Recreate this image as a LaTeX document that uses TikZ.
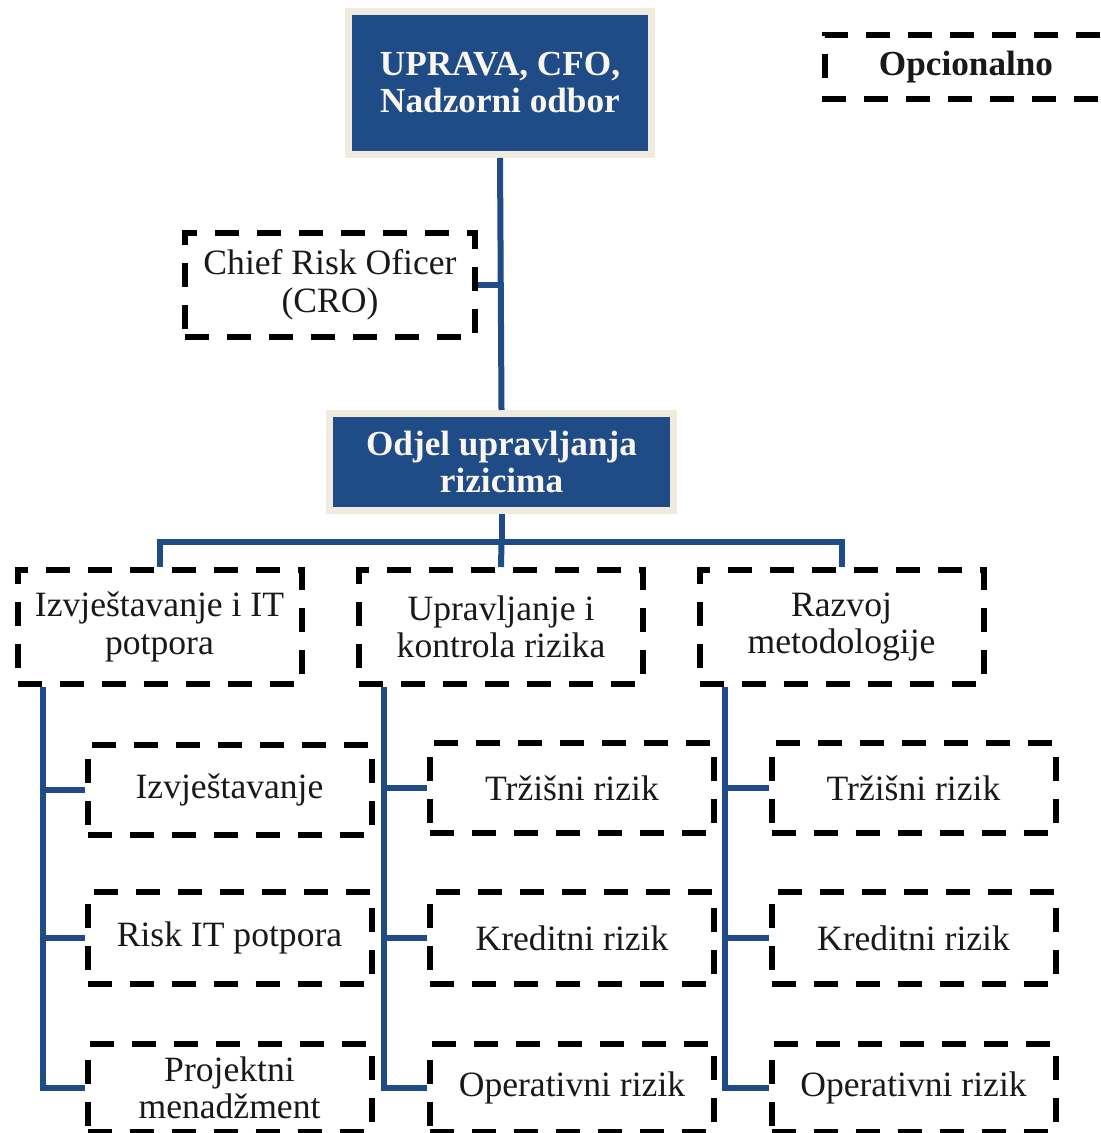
\documentclass[tikz,border=0pt]{standalone}
\usepackage{fontspec}
\setmainfont{Liberation Serif}
\definecolor{navy}{RGB}{31,75,135}
\definecolor{halo}{RGB}{240,235,222}
\definecolor{ink}{RGB}{25,25,25}
\definecolor{cream}{RGB}{250,246,236}
\begin{document}
\begin{tikzpicture}[x=0.5pt,y=-0.5pt,
  mainbox/.style={fill=navy, text=cream, font=\bfseries\fontsize{17.6}{18.5}\selectfont,
    align=center, inner sep=0pt, outer sep=3.5pt, preaction={draw=halo, line width=7pt}},
  optbox/.style={draw=black, line width=3pt, dash pattern=on 12pt off 9pt, text=ink,
    font=\fontsize{17.8}{18.8}\selectfont, align=center, inner sep=0pt},
  lvtwo/.style={optbox, minimum width=142pt, minimum height=57pt},
  lvthree/.style={optbox, minimum width=142pt, minimum height=45pt},
  link/.style={draw=navy, line width=3pt}]
\path[use as bounding box, fill=white] (0,0) rectangle (1100,1133);

% top boxes
\node[mainbox, minimum width=148pt, minimum height=68pt] (top) at (500,83) {UPRAVA, CFO,\\Nadzorni odbor};
\node[mainbox, minimum width=168.5pt, minimum height=45pt] (odjel) at (501.5,462) {Odjel upravljanja\\rizicima};
\node[optbox, minimum width=145pt, minimum height=52pt] (cro) at (330,285) {Chief Risk Oficer\\(CRO)};

% legend
\node[text=ink, font=\bfseries\fontsize{17.6}{18.5}\selectfont, inner sep=0pt] (opt) at (966,67) {Opcionalno};
\draw[black, line width=3.2pt, dash pattern=on 12pt off 9pt] (1100,35) -- (825,35) -- (825,99) -- (1100,99);

% level 2
\node[lvtwo] (l2a) at (159.5,627) {Izvještavanje i IT\\potpora};
\node[lvtwo] (l2b) at (501,627) {Upravljanje i\\kontrola rizika};
\node[lvtwo] (l2c) at (841.5,627) {Razvoj\\metodologije};

% level 3
\node[lvthree] (a1) at (229.5,790) {Izvještavanje};
\node[lvthree, minimum height=46pt] (a2) at (229.5,938) {Risk IT potpora};
\node[lvthree, minimum height=44pt] (a3) at (229.5,1088) {Projektni\\menadžment};
\node[lvthree] (b1) at (572,788) {Tržišni rizik};
\node[lvthree, minimum height=46pt] (b2) at (572,938) {Kreditni rizik};
\node[lvthree, minimum height=44pt] (b3) at (572,1088) {Operativni rizik};
\node[lvthree] (c1) at (913.5,788) {Tržišni rizik};
\node[lvthree, minimum height=46pt] (c2) at (913.5,938) {Kreditni rizik};
\node[lvthree, minimum height=44pt] (c3) at (913.5,1088) {Operativni rizik};

% connectors
\draw[link] (top.south) -- (odjel.north);
\draw[link] (cro.east) -- (cro.east -| top.south);
\path (odjel.south) ++(0,28) coordinate (bus);
\draw[link] (odjel.south) -- (bus);
\draw[link] (l2a.north) |- (bus) -| (l2c.north);
\draw[link] (bus) -- (l2b.north);

\path ([xshift=14pt]l2a.south west) coordinate (va);
\path ([xshift=14pt]l2b.south west) coordinate (vb);
\path ([xshift=14pt]l2c.south west) coordinate (vc);
\draw[link] (va) |- (a3.west);
\draw[link] (va |- a1.west) -- (a1.west);
\draw[link] (va |- a2.west) -- (a2.west);
\draw[link] (vb) |- (b3.west);
\draw[link] (vb |- b1.west) -- (b1.west);
\draw[link] (vb |- b2.west) -- (b2.west);
\draw[link] (vc) |- (c3.west);
\draw[link] (vc |- c1.west) -- (c1.west);
\draw[link] (vc |- c2.west) -- (c2.west);
\end{tikzpicture}
\end{document}
